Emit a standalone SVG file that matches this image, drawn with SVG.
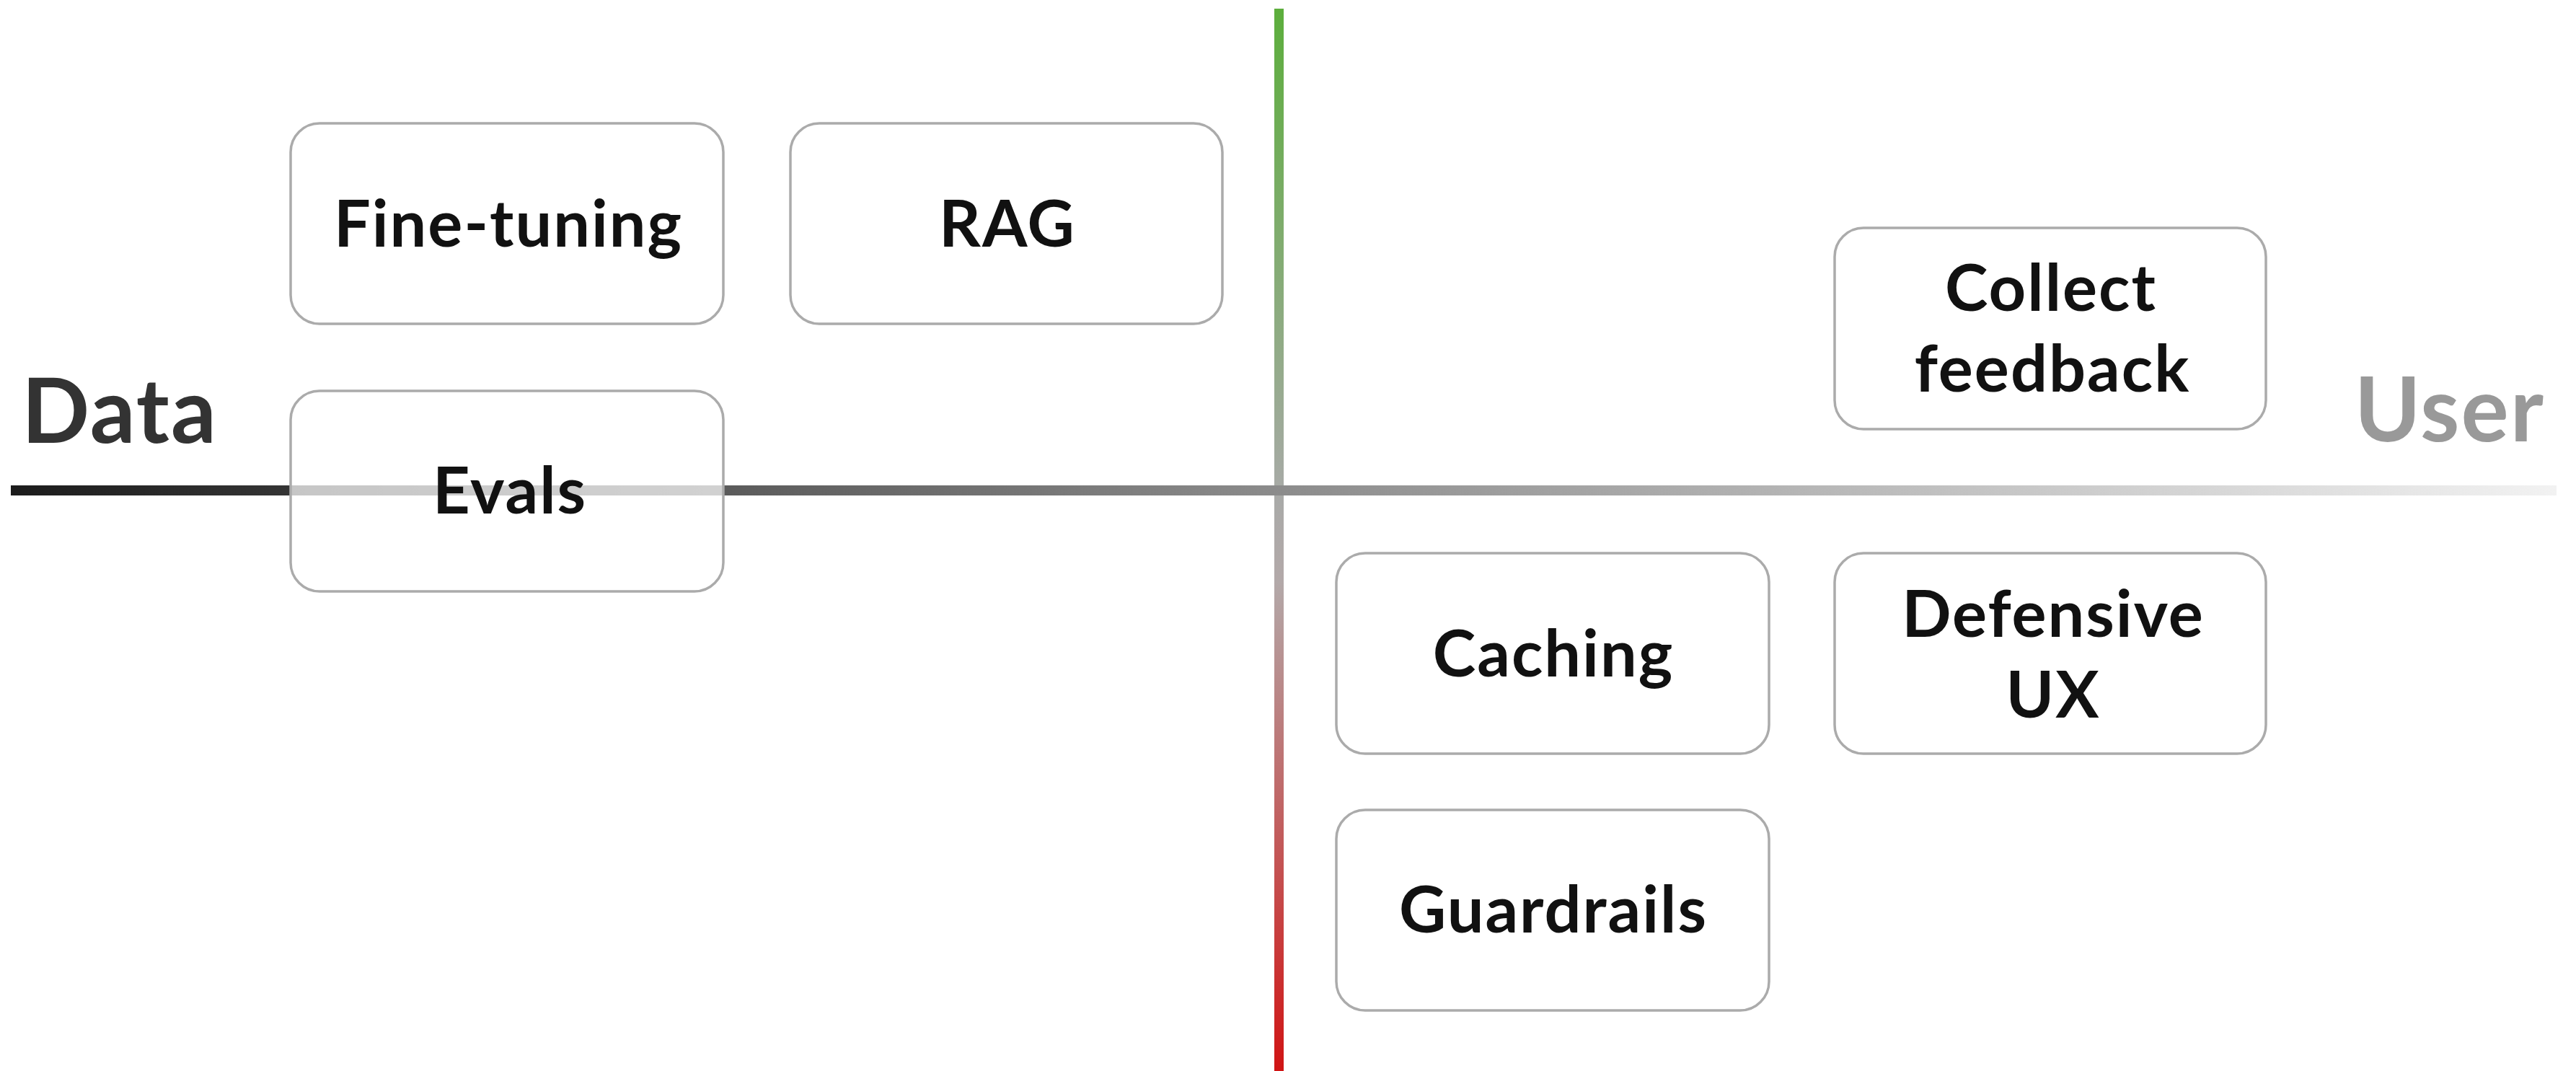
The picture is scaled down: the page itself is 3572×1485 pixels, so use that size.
<svg xmlns="http://www.w3.org/2000/svg" width="3572" height="1485" viewBox="0 0 3572 1485">
  <defs>
    <linearGradient id="hgrad" x1="15" y1="0" x2="3545" y2="0" gradientUnits="userSpaceOnUse">
      <stop offset="0" stop-color="#1c1c1c"/>
      <stop offset="0.5" stop-color="#8c8c8c"/>
      <stop offset="1" stop-color="#f2f2f2"/>
    </linearGradient>
    <linearGradient id="vgrad" x1="0" y1="12" x2="0" y2="1485" gradientUnits="userSpaceOnUse">
      <stop offset="0" stop-color="#5cae3c"/>
      <stop offset="0.46" stop-color="#a9aaa8"/>
      <stop offset="0.54" stop-color="#b3a9a9"/>
      <stop offset="1" stop-color="#d01414"/>
    </linearGradient>
  </defs>
  <style>
    .box { fill: #ffffff; stroke: #ababab; stroke-width: 3.5; }
    .boxt { fill: #ffffff; fill-opacity: 0.72; stroke: #ababab; stroke-width: 3.5; }
    .lbl { font-family: Lato, "Liberation Sans", sans-serif; font-weight: 700; font-size: 90px; letter-spacing: 2px; fill: #111111; text-anchor: middle; }
    .axis { font-family: Lato, "Liberation Sans", sans-serif; font-weight: 700; font-size: 124px; letter-spacing: 2px; }
  </style>
  <rect width="3572" height="1485" fill="#ffffff"/>

  <g id="connectors">
    <rect x="1767" y="12" width="13" height="1473" fill="url(#vgrad)"/>
    <rect x="15" y="673" width="3530" height="14" fill="url(#hgrad)"/>
  </g>

  <g id="axis-data">
    <text class="axis" x="30" y="614" fill="#333333">Data</text>
  </g>
  <g id="axis-user">
    <text class="axis" x="3529" y="612" fill="#999999" text-anchor="end">User</text>
  </g>

  <g id="fine-tuning">
    <rect class="box" x="403" y="171" width="600" height="278" rx="40"/>
    <text class="lbl" x="705" y="342">Fine-tuning</text>
  </g>
  <g id="rag">
    <rect class="box" x="1096" y="171" width="599" height="278" rx="40"/>
    <text class="lbl" x="1397" y="342">RAG</text>
  </g>
  <g id="evals">
    <rect class="boxt" x="403" y="542" width="600" height="278" rx="40"/>
    <text class="lbl" x="707" y="712">Evals</text>
  </g>
  <g id="collect-feedback">
    <rect class="box" x="2544" y="316" width="598" height="279" rx="40"/>
    <text class="lbl" x="2844" y="431">Collect</text>
    <text class="lbl" x="2846" y="543">feedback</text>
  </g>
  <g id="caching">
    <rect class="box" x="1853" y="767" width="600" height="278" rx="40"/>
    <text class="lbl" x="2154" y="938">Caching</text>
  </g>
  <g id="defensive-ux">
    <rect class="box" x="2544" y="767" width="598" height="278" rx="40"/>
    <text class="lbl" x="2847" y="883">Defensive</text>
    <text class="lbl" x="2847" y="995">UX</text>
  </g>
  <g id="guardrails">
    <rect class="box" x="1853" y="1123" width="600" height="278" rx="40"/>
    <text class="lbl" x="2154" y="1293">Guardrails</text>
  </g>
</svg>
